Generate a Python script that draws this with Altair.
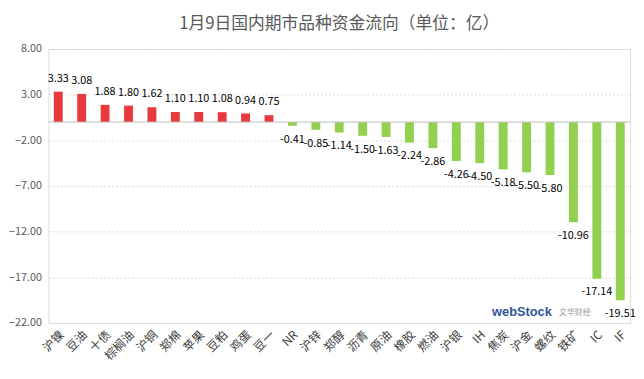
import altair as alt
import pandas as pd

categories = ["沪镍", "豆油", "十债", "棕榈油", "沪铜", "郑棉", "苹果", "豆粕", "鸡蛋", "豆一",
              "NR", "沪锌", "郑醇", "沥青", "原油", "橡胶", "燃油", "沪银", "IH", "焦炭",
              "沪金", "螺纹", "铁矿", "IC", "IF"]
values = [3.33, 3.08, 1.88, 1.80, 1.62, 1.10, 1.10, 1.08, 0.94, 0.75,
          -0.41, -0.85, -1.14, -1.50, -1.63, -2.24, -2.86, -4.26, -4.50, -5.18,
          -5.50, -5.80, -10.96, -17.14, -19.51]
y_ticks = [8, 3, -2, -7, -12, -17, -22]

df = pd.DataFrame({"cat": categories, "val": values})
df["label"] = df["val"].map(lambda v: f"{v:.2f}")
df["sign"] = df["val"].map(lambda v: "pos" if v >= 0 else "neg")

FONT = "Microsoft YaHei, Noto Sans CJK SC, sans-serif"

x_enc = alt.X("cat:N", sort=categories, title=None,
              scale=alt.Scale(paddingInner=0.6, paddingOuter=0.22),
              axis=alt.Axis(labelAngle=-45, labelFontSize=12, labelColor="#404040",
                            labelFont=FONT, domain=False, ticks=False, labelPadding=6,
                            orient="bottom"))
y_scale = alt.Scale(domain=[-22, 8], nice=False, zero=False)

base = alt.Chart(df)

bars = base.mark_bar(size=9).encode(
    x=x_enc,
    y=alt.Y("val:Q", scale=y_scale, title=None,
            axis=alt.Axis(values=y_ticks, format=".2f", labelFontSize=11,
                          labelColor="#595959", labelFont=FONT, domain=False, ticks=False,
                          labelPadding=7, gridDash=[2, 2], gridColor="#d9d9d9")),
    y2=alt.datum(0),
    color=alt.Color("sign:N", scale=alt.Scale(domain=["pos", "neg"],
                                              range=["#e8393c", "#92d050"]), legend=None),
)

pos_text = base.transform_filter("datum.val >= 0").mark_text(
    dy=-8, baseline="bottom", fontSize=11, color="#000000", font=FONT
).encode(x=alt.X("cat:N", sort=categories), y=alt.Y("val:Q", scale=y_scale), text="label:N")

neg_text = base.transform_filter("datum.val < 0").mark_text(
    dy=8, baseline="top", fontSize=11, color="#000000", font=FONT
).encode(x=alt.X("cat:N", sort=categories), y=alt.Y("val:Q", scale=y_scale), text="label:N")

zero = alt.Chart(pd.DataFrame({"z": [0]})).mark_rule(color="#bfbfbf", strokeWidth=1).encode(
    y=alt.Y("z:Q", scale=y_scale))

wm1 = alt.Chart(pd.DataFrame({"t": ["webStock"]})).mark_text(
    fontSize=13, fontWeight="bold", color="#2e5597", font="Arial", align="left", baseline="middle"
).encode(x=alt.value(450), y=alt.value(267), text="t:N")
wm2 = alt.Chart(pd.DataFrame({"t": ["文华财经"]})).mark_text(
    fontSize=8, color="#9a9a9a", font=FONT, align="left", baseline="middle"
).encode(x=alt.value(518), y=alt.value(268), text="t:N")

chart = alt.layer(bars, zero, pos_text, neg_text, wm1, wm2).properties(
    width=590, height=278,
    title=alt.TitleParams("1月9日国内期市品种资金流向（单位：亿）", fontSize=17,
                          fontWeight="normal", color="#595959", font=FONT,
                          anchor="middle", offset=10),
    padding={"left": 0, "top": 5, "right": 0, "bottom": 0},
).configure_view(stroke=None).configure(background="white")

chart.save("out.html", embed_options={"renderer": "svg", "actions": False})
